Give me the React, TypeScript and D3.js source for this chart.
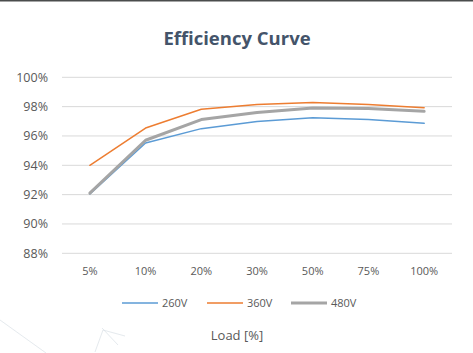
import React from "react";
import * as d3 from "d3";

const categories = ["5%", "10%", "20%", "30%", "50%", "75%", "100%"];
const seriesNames = ["260V", "360V", "480V"];
const v260 = [92.05, 95.52, 96.5, 96.98, 97.25, 97.12, 96.86];
const v360 = [94.0, 96.54, 97.82, 98.15, 98.29, 98.15, 97.93];
const v480 = [92.1, 95.71, 97.12, 97.6, 97.9, 97.88, 97.68];
const yTicks = [88, 90, 92, 94, 96, 98, 100];

const colors = ["#5B9BD5", "#ED7D31", "#A5A5A5"];
const widths = [1.5, 1.5, 3];

export default function App() {
  const W = 473, H = 353;
  const x = d3.scalePoint<string>().domain(categories).range([62, 452]).padding(0.5);
  const y = d3.scaleLinear().domain([88, 100]).range([253.3, 77.3]);
  const line = d3
    .line<number>()
    .x((_, i) => x(categories[i]) as number)
    .y((d) => y(d));
  const allSeries = [v260, v360, v480];
  const font = "'Open Sans', 'Noto Sans', sans-serif";
  const legendX = [122, 207, 291];
  return (
    <svg
      width={W}
      height={H}
      style={{ position: "absolute", left: 0, top: 0, background: "#fff" }}
      fontFamily={font}
    >
      <rect x={0} y={0} width={W} height={H} fill="#fff" />
      <rect x={0} y={0} width={W} height={1.5} fill="#4a4d4c" />
      <g stroke="#c9d3dc" strokeWidth={0.6} fill="none" opacity={0.8}>
        <path d="M0,320 L46,353" />
        <path d="M95,352 L103,330 L125,336" />
        <path d="M102,328 L118,345" />
      </g>
      <text x={237} y={45} textAnchor="middle" fontSize={18.5} fontWeight={700} fill="#44546A">
        Efficiency Curve
      </text>
      {yTicks.map((t) => (
        <g key={t}>
          <line x1={62} x2={452} y1={y(t)} y2={y(t)} stroke="#d9d9d9" strokeWidth={1} />
          <text x={48} y={y(t)} dy="0.35em" textAnchor="end" fontSize={12.5} fill="#595959">
            {t}%
          </text>
        </g>
      ))}
      {categories.map((c) => (
        <text key={c} x={x(c)} y={271} dy="0.35em" textAnchor="middle" fontSize={11} fill="#595959">
          {c}
        </text>
      ))}
      {allSeries.map((s, i) => (
        <path
          key={seriesNames[i]}
          d={line(s) || ""}
          fill="none"
          stroke={colors[i]}
          strokeWidth={widths[i]}
          strokeLinejoin="round"
          strokeLinecap="round"
        />
      ))}
      {seriesNames.map((n, i) => (
        <g key={n}>
          <line x1={legendX[i]} x2={legendX[i] + 36} y1={303} y2={303} stroke={colors[i]} strokeWidth={widths[i]} />
          <text x={legendX[i] + 40} y={303} dy="0.35em" fontSize={11} fill="#595959">
            {n}
          </text>
        </g>
      ))}
      <text x={237} y={335} dy="0.35em" textAnchor="middle" fontSize={13} fill="#595959">
        Load [%]
      </text>
    </svg>
  );
}
